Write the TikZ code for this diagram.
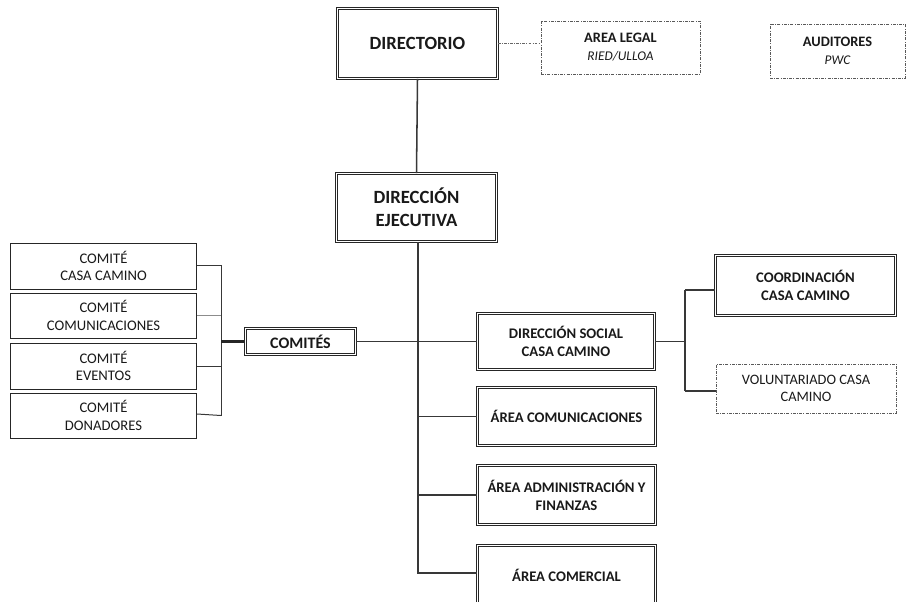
\documentclass[tikz,border=0pt]{standalone}
\usepackage{fontspec}
\setmainfont{Carlito}
\usetikzlibrary{calc}
\begin{document}
\begin{tikzpicture}[x=0.75pt,y=-0.75pt,
  dbox/.style={draw=black!85, double=white, line width=0.6pt, double distance=1.1pt,
    align=center, font=\bfseries\fontsize{11}{13.5}\selectfont, text=black!90, inner sep=0pt},
  bigfont/.style={font=\bfseries\fontsize{14}{17.5}\selectfont},
  dotbox/.style={draw=black!65, line width=0.6pt, dash pattern=on 2.2pt off 1pt on 0.6pt off 1pt,
    align=center, inner sep=0pt, text=black!90},
  cbox/.style={draw=black!85, line width=0.7pt, align=center, text=black!90,
    font=\fontsize{11}{13.2}\selectfont, minimum width=139.5pt, inner sep=0pt},
  link/.style={draw=black!78, line width=1.15pt},
  clink/.style={draw=black!78, line width=0.75pt},
  dlink/.style={draw=black!60, line width=0.8pt, dash pattern=on 2pt off 1pt on 0.6pt off 1pt}]
\useasboundingbox (0,0) rectangle (907,601);
% main nodes
\node[dbox, bigfont, minimum width=120pt, minimum height=52.5pt] (dir) at (417.5,43.5) {DIRECTORIO};
\node[dbox, bigfont, minimum width=120pt, minimum height=51pt] (ejec) at (416.5,207.5) {DIRECCIÓN\\EJECUTIVA};
\node[dbox, font=\bfseries\fontsize{12}{14}\selectfont, minimum width=82.5pt, minimum height=19.5pt] (comites) at (300.5,341.5) {COMITÉS};
\node[dbox, minimum width=132.75pt, minimum height=42pt] (social) at (566,341.5) {DIRECCIÓN SOCIAL\\CASA CAMINO};
\node[dbox, minimum width=133.5pt, minimum height=43.5pt] (comunic) at (566.5,416.5) {ÁREA COMUNICACIONES};
\node[dbox, minimum width=133.5pt, minimum height=44pt] (admin) at (566.5,495) {ÁREA ADMINISTRACIÓN Y\\FINANZAS};
\node[dbox, minimum width=133.5pt, minimum height=44pt] (comercial) at (566.5,575) {ÁREA COMERCIAL};
\node[dbox, minimum width=135pt, minimum height=45pt] (coord) at (805.5,285.5) {COORDINACIÓN\\CASA CAMINO};
\node[dotbox, font=\fontsize{10.8}{13}\selectfont, minimum width=135pt, minimum height=36.75pt] (volunt) at (806,388.5) {VOLUNTARIADO CASA\\CAMINO};
\node[dotbox, font=\bfseries\fontsize{10.8}{13.5}\selectfont, minimum width=119.25pt, minimum height=39.75pt] (legal) at (620.5,47.5) {AREA LEGAL\\{\normalfont\itshape\fontsize{10}{12}\selectfont RIED/ULLOA}};
\node[dotbox, font=\bfseries\fontsize{10.8}{13.5}\selectfont, minimum width=101.25pt, minimum height=40.5pt] (audit) at (837.5,51) {AUDITORES\\{\normalfont\itshape\fontsize{10}{12}\selectfont PWC}};
% committees
\node[cbox, minimum height=34.5pt] (c1) at (103.5,266) {COMITÉ\\CASA CAMINO};
\node[cbox, minimum height=33.75pt] (c2) at (103.5,315.5) {COMITÉ\\COMUNICACIONES};
\node[cbox, minimum height=34.5pt] (c3) at (103.5,366) {COMITÉ\\EVENTOS};
\node[cbox, minimum height=33.75pt] (c4) at (103.5,415.5) {COMITÉ\\DONADORES};
% connectors
\draw[dlink] (dir.east) -- (dir.east -| legal.west);
\draw[link] (dir.south) -- (ejec.north);
\coordinate (tb) at (418,573);
\draw[link] (ejec.south -| tb) -- (tb) -- (tb -| comercial.west);
\draw[link] (comites.east) -- (social.west);
\draw[link] (comunic.west -| tb) -- (comunic.west);
\draw[link] (admin.west -| tb) -- (admin.west);
\coordinate (sj) at (685,341.5);
\coordinate (cj) at ($(coord.west)+(0,4.5)$);
\coordinate (vj) at ($(volunt.west)+(0,2.5)$);
\draw[link] (social.east) -- (sj);
\draw[link] (cj -| sj) -- (vj -| sj);
\draw[link] (cj -| sj) -- (cj);
\draw[link] (vj -| sj) -- (vj);
\coordinate (kj) at (221,341.5);
\draw[clink] ($(c1.east)+(0,-1)$) -| (kj |- c4.east);
\draw[clink] (kj |- c4.east) -- ($(c4.east)+(0,-1.5)$);
\draw[draw=black!45, line width=0.7pt] (c2.east) -- (kj |- c2.east);
\draw[clink] (c3.east) -- (kj |- c3.east);
\draw[draw=black!85, line width=1.8pt] (kj) -- (comites.west);
\end{tikzpicture}
\end{document}
